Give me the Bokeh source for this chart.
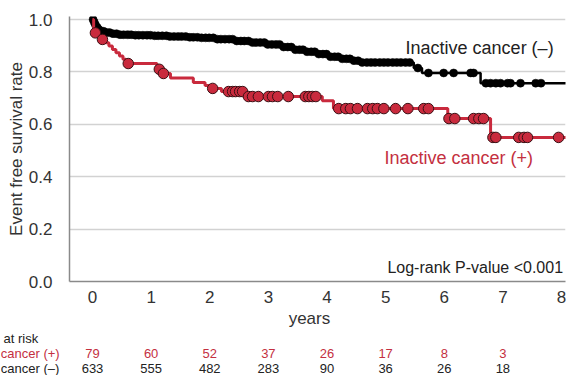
import numpy as np
from bokeh.plotting import figure
from bokeh.layouts import column
from bokeh.models import Label, FixedTicker, NumeralTickFormatter, Range1d
from bokeh.core.properties import value
from bokeh.embed import file_html
from bokeh.resources import INLINE

# ---- data ----
# Inactive cancer (-): step curve (time in years, survival)
neg_t = [0.00, 0.02, 0.04, 0.06, 0.09, 0.13, 0.20, 0.30, 0.45, 0.70, 1.00, 1.30,
         1.60, 1.85, 2.10, 2.40, 2.70, 2.98, 3.20, 3.40, 3.60, 3.80, 4.00, 4.20,
         4.40, 4.57, 5.48, 5.62, 6.62, 8.08]
neg_s = [1.000, 0.990, 0.980, 0.970, 0.962, 0.955, 0.950, 0.946, 0.942, 0.940,
         0.938, 0.935, 0.932, 0.930, 0.925, 0.918, 0.912, 0.905, 0.895, 0.885,
         0.877, 0.868, 0.858, 0.850, 0.843, 0.836, 0.815, 0.796, 0.757, 0.757]
# censored times, inactive cancer (-)
neg_cens = [0.01, 0.03, 0.05, 0.08, 0.11, 0.15, 0.19, 0.24, 0.29, 0.35, 0.41, 0.47,
            0.53, 0.60, 0.66, 0.73, 0.79, 0.86, 0.93, 0.99, 1.06, 1.12, 1.19, 1.26,
            1.32, 1.39, 1.46, 1.52, 1.59, 1.66, 1.72, 1.79, 1.86, 1.93, 1.99, 2.06,
            2.13, 2.19, 2.26, 2.33, 2.39, 2.46, 2.53, 2.59, 2.66, 2.73, 2.79, 2.86,
            2.93, 2.99, 3.06, 3.13, 3.19, 3.26, 3.33, 3.39, 3.46, 3.53, 3.59, 3.66,
            3.73, 3.79, 3.86, 3.93, 3.99, 4.06, 4.13, 4.19, 4.26, 4.33, 4.39, 4.46,
            4.53, 4.60, 4.68, 4.75, 4.82, 4.90, 4.97, 5.04, 5.12, 5.19, 5.26, 5.34,
            5.41, 5.55, 5.73, 5.99, 6.16, 6.45, 6.50, 6.71, 6.79, 6.88, 6.96, 7.08,
            7.13, 7.30, 7.56, 7.65]

# Inactive cancer (+): step curve
pos_t = [0.00, 0.02, 0.10, 0.14, 0.22, 0.28, 0.34, 0.40, 0.46, 0.52, 0.57, 1.10,
         1.18, 1.33, 1.72, 1.92, 2.00, 2.20, 2.60, 3.92, 4.11, 6.06, 6.79, 8.08]
pos_s = [1.000, 0.949, 0.937, 0.924, 0.911, 0.899, 0.886, 0.873, 0.861, 0.848,
         0.832, 0.810, 0.794, 0.777, 0.760, 0.748, 0.737, 0.725, 0.706, 0.690,
         0.660, 0.622, 0.550, 0.550]
pos_cens = [0.05, 0.17, 0.61, 1.14, 1.21, 2.05, 2.32, 2.39, 2.44, 2.51, 2.56, 2.66,
            2.73, 2.83, 3.00, 3.07, 3.16, 3.34, 3.63, 3.69, 3.75, 3.81, 4.20, 4.32,
            4.40, 4.52, 4.69, 4.78, 4.86, 4.97, 5.17, 5.38, 5.65, 5.73, 6.08, 6.18,
            6.50, 6.59, 6.67, 6.83, 6.88, 7.27, 7.36, 7.42, 7.95]

# numbers at risk
risk_years = [0, 1, 2, 3, 4, 5, 6, 7]
risk_pos = ["79", "60", "52", "37", "26", "17", "8", "3"]
risk_neg = ["633", "555", "482", "283", "90", "36", "26", "18"]

x_ticks = [0, 1, 2, 3, 4, 5, 6, 7, 8]
y_ticks = [0.0, 0.2, 0.4, 0.6, 0.8, 1.0]


def surv_at(times, ts, ss):
    ts = np.asarray(ts)
    ss = np.asarray(ss)
    idx = np.searchsorted(ts, np.asarray(times), side="right") - 1
    return ss[idx]


RED = "#c92a3d"
RED_TXT = "#c4303f"
DARK = "#222222"
FONT = "Liberation Sans"

# ---- main survival plot ----
p = figure(width=569, height=308, output_backend="svg", toolbar_location=None,
           x_range=Range1d(-0.392, 8.068), y_range=Range1d(0.0, 1.0115),
           min_border_left=69, min_border_right=4, min_border_top=16,
           min_border_bottom=27)
p.frame_align = False
p.outline_line_color = None
p.background_fill_color = "white"
p.border_fill_color = "white"

p.xaxis.ticker = FixedTicker(ticks=x_ticks)
p.yaxis.ticker = FixedTicker(ticks=y_ticks)
p.yaxis.formatter = NumeralTickFormatter(format="0.0")
for ax in (p.xaxis[0], p.yaxis[0]):
    ax.axis_line_color = "#8a8a8a"
    ax.axis_line_width = 1.5
    ax.major_tick_line_color = None
    ax.minor_tick_line_color = None
    ax.major_label_text_font = FONT
    ax.major_label_text_font_size = "17px"
    ax.major_label_text_color = "#333333"
    ax.axis_label_text_font = FONT
    ax.axis_label_text_font_size = "17px"
    ax.axis_label_text_font_style = "normal"
    ax.axis_label_text_color = "#333333"
p.yaxis.axis_label = "Event free survival rate"
p.yaxis.major_label_standoff = 11
p.yaxis.axis_label_standoff = 0
p.xaxis.major_label_standoff = 3

p.xgrid.grid_line_color = None
p.ygrid.ticker = FixedTicker(ticks=y_ticks)
p.ygrid.grid_line_color = "#d2d2d2"
p.ygrid.grid_line_width = 1.6

p.step(neg_t, neg_s, mode="after", line_color="black", line_width=2.5)
p.scatter(neg_cens, surv_at(neg_cens, neg_t, neg_s), size=8,
          fill_color="black", line_color="black", line_width=0.5)

p.step(pos_t, pos_s, mode="after", line_color=RED, line_width=3)
p.scatter(pos_cens, surv_at(pos_cens, pos_t, pos_s), size=10.5,
          fill_color=RED, line_color="#3a1014", line_width=1)

p.add_layout(Label(x=5.34, y=0.893, text="Inactive cancer (\u2013)",
                   text_font=FONT, text_font_size="18px", text_color=DARK,
                   text_baseline="middle", text_align="left"))
p.add_layout(Label(x=4.98, y=0.473, text="Inactive cancer (+)",
                   text_font=FONT, text_font_size="18px", text_color=RED_TXT,
                   text_baseline="middle", text_align="left"))
p.add_layout(Label(x=5.03, y=0.053, text="Log-rank P-value <0.001",
                   text_font=FONT, text_font_size="16px", text_color=DARK,
                   text_baseline="middle", text_align="left"))

# ---- lower panel: axis title and numbers at risk ----
q = figure(width=569, height=67, output_backend="svg", toolbar_location=None,
           x_range=Range1d(-1.5693, 8.1365), y_range=Range1d(67, 0),
           min_border_left=0, min_border_right=0, min_border_top=0,
           min_border_bottom=0)
q.frame_align = False
q.axis.visible = False
q.grid.grid_line_color = None
q.outline_line_color = None
q.background_fill_color = "white"
q.border_fill_color = "white"

q.text(x=[3.7], y=[10], text=["years"], text_font=value(FONT),
       text_font_size="17px", text_color="#333333",
       text_align="center", text_baseline="middle")
q.text(x=[-1.518], y=[30], text=["at risk"], text_font=value(FONT),
       text_font_size="13px", text_color=DARK,
       text_align="left", text_baseline="middle")
q.text(x=[-1.565], y=[45], text=["cancer (+)"], text_font=value(FONT),
       text_font_size="13px", text_color=RED_TXT,
       text_align="left", text_baseline="middle")
q.text(x=[-1.565], y=[60], text=["cancer (\u2013)"], text_font=value(FONT),
       text_font_size="13px", text_color=DARK,
       text_align="left", text_baseline="middle")
q.text(x=risk_years, y=[45] * len(risk_years), text=risk_pos,
       text_font=value(FONT), text_font_size="13px", text_color=RED_TXT,
       text_align="center", text_baseline="middle")
q.text(x=risk_years, y=[60] * len(risk_years), text=risk_neg,
       text_font=value(FONT), text_font_size="13px", text_color=DARK,
       text_align="center", text_baseline="middle")

layout = column(p, q, spacing=0)
open("out.html", "w").write(file_html(layout, INLINE))
